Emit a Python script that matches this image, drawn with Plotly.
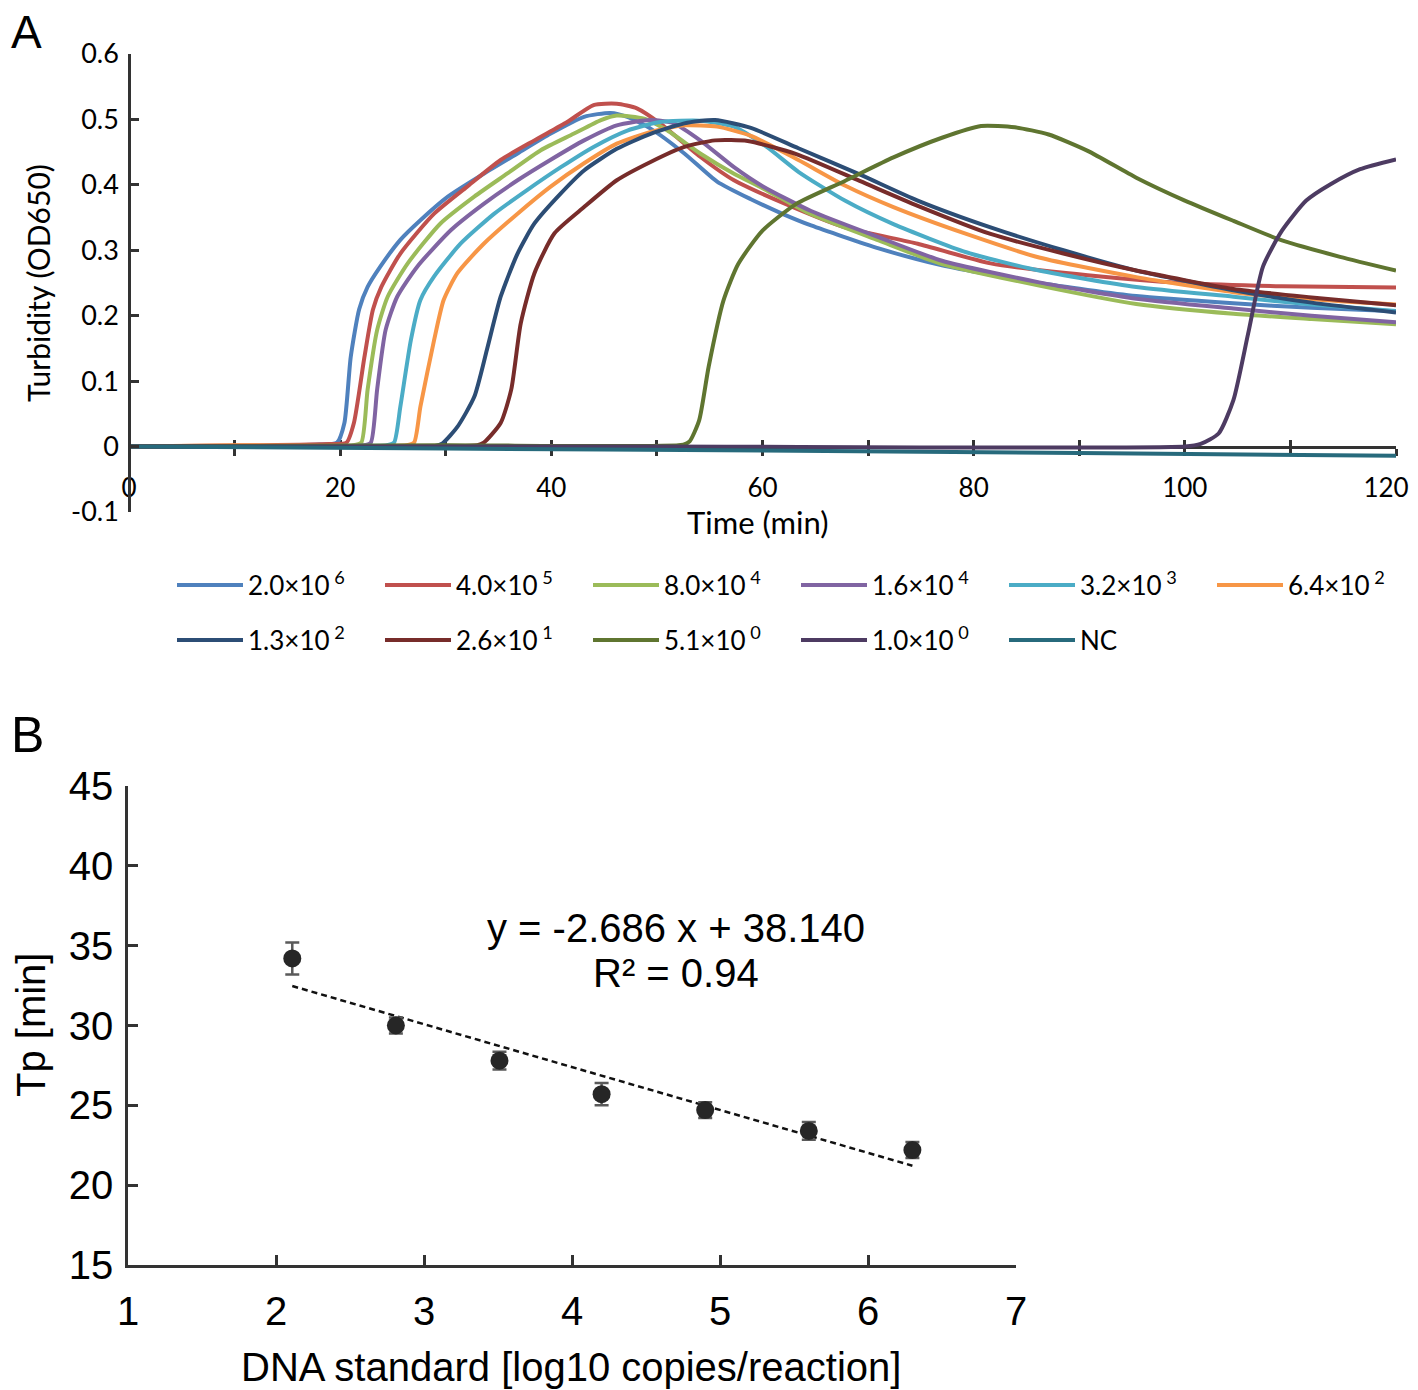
import plotly.graph_objects as go

# ---------------- Panel A data: turbidity curves ----------------
series_names = ["2.0×10<sup>\u00a06</sup>", "4.0×10<sup>\u00a05</sup>", "8.0×10<sup>\u00a04</sup>",
                "1.6×10<sup>\u00a04</sup>", "3.2×10<sup>\u00a03</sup>", "6.4×10<sup>\u00a02</sup>",
                "1.3×10<sup>\u00a02</sup>", "2.6×10<sup>\u00a01</sup>", "5.1×10<sup>\u00a00</sup>",
                "1.0×10<sup>\u00a00</sup>", "NC"]
series_colors = ["#4F81BD", "#C0504D", "#9BBB59", "#8064A2", "#4BACC6", "#F79646",
                 "#2C4D75", "#772C2A", "#5F7530", "#4D3B62", "#276A7C"]

t_s1 = [0, 12, 18, 19.7, 20.4, 21.0, 21.8, 22.6, 23.8, 25.7, 27.6, 30.2, 33.6, 36.8, 39.9, 43.1, 45.6, 47.2,
        49.4, 52.6, 55.7, 58.9, 62.0, 64.6, 71.0, 77.0, 86.2, 95.4, 104.6, 112.0, 120.0]
y_s1 = [0, 0.001, 0.003, 0.006, 0.036, 0.137, 0.21, 0.244, 0.275, 0.316, 0.346, 0.382, 0.417, 0.448, 0.478,
        0.504, 0.51, 0.504, 0.486, 0.448, 0.405, 0.378, 0.355, 0.338, 0.303, 0.277, 0.25, 0.23, 0.219, 0.212, 0.207]

t_s2 = [0, 12, 19, 20.6, 21.3, 22.3, 23.1, 23.9, 25.7, 28.9, 32.0, 35.2, 38.4, 41.5, 44.0, 46.2, 48.1, 50.3,
        54.1, 57.3, 62.0, 67.8, 74.7, 81.6, 90.8, 100, 109.2, 120]
y_s2 = [0, 0.002, 0.004, 0.006, 0.036, 0.137, 0.209, 0.244, 0.295, 0.356, 0.397, 0.438, 0.468, 0.496, 0.522,
        0.524, 0.517, 0.494, 0.443, 0.407, 0.372, 0.335, 0.31, 0.28, 0.262, 0.25, 0.245, 0.243]

t_s3 = [0, 15, 21.2, 22.0, 22.6, 23.5, 24.5, 26.4, 29.5, 32.7, 35.8, 39.0, 42.1, 44.7, 46.2, 48.8, 51.0, 54.1,
        57.3, 60.0, 64.6, 71.0, 77.0, 86.2, 95.4, 104.6, 112, 120]
y_s3 = [0, 0.001, 0.002, 0.006, 0.087, 0.178, 0.229, 0.28, 0.341, 0.382, 0.417, 0.453, 0.478, 0.499, 0.506,
        0.501, 0.483, 0.448, 0.417, 0.395, 0.355, 0.315, 0.279, 0.246, 0.218, 0.203, 0.195, 0.187]

t_s4 = [0, 15, 22.2, 22.9, 23.5, 24.3, 25.4, 27.3, 30.5, 33.6, 36.8, 39.9, 43.1, 46.2, 49.4, 51.6, 54.1, 57.3,
        60.0, 64.6, 71.0, 77.0, 86.2, 95.4, 104.6, 112, 120]
y_s4 = [0, 0.001, 0.002, 0.006, 0.087, 0.178, 0.229, 0.275, 0.331, 0.371, 0.407, 0.438, 0.468, 0.491, 0.499,
        0.494, 0.468, 0.427, 0.398, 0.36, 0.32, 0.284, 0.251, 0.226, 0.211, 0.2, 0.19]

t_s5 = [0, 20, 24.4, 25.1, 25.7, 26.7, 27.6, 28.9, 31.4, 34.6, 37.7, 40.9, 44.0, 47.2, 50.3, 54.1, 57.3, 60.4,
        63.4, 67.8, 72.4, 79.3, 86.2, 95.4, 104.6, 112, 120]
y_s5 = [0, 0.001, 0.002, 0.006, 0.061, 0.163, 0.224, 0.26, 0.31, 0.356, 0.392, 0.427, 0.458, 0.483, 0.496,
        0.498, 0.489, 0.458, 0.42, 0.376, 0.34, 0.297, 0.269, 0.244, 0.229, 0.217, 0.207]

t_s6 = [0, 10, 26.3, 27.0, 27.6, 28.9, 29.8, 31.1, 33.6, 36.8, 39.9, 43.1, 46.2, 49.4, 52.6, 55.7, 58.9, 63.4,
        67.8, 72.4, 79.3, 86.2, 95.4, 104.6, 112, 120]
y_s6 = [0, 0.002, 0.002, 0.006, 0.061, 0.163, 0.224, 0.265, 0.31, 0.356, 0.397, 0.433, 0.463, 0.481, 0.491,
        0.489, 0.475, 0.438, 0.399, 0.366, 0.325, 0.289, 0.259, 0.236, 0.225, 0.217]

t_s7 = [0, 20, 29.0, 29.7, 31.1, 32.7, 33.9, 35.2, 36.8, 38.4, 40.9, 43.1, 46.2, 49.4, 52.6, 55.5, 58.9, 63.4,
        69.2, 74.7, 81.6, 88.5, 95.4, 104.6, 112, 120]
y_s7 = [0, 0.0, 0.001, 0.005, 0.03, 0.076, 0.148, 0.229, 0.295, 0.341, 0.387, 0.422, 0.455, 0.478, 0.494,
        0.499, 0.487, 0.456, 0.416, 0.376, 0.335, 0.3, 0.269, 0.239, 0.22, 0.205]

t_s8 = [0, 25, 33.0, 33.6, 35.2, 36.2, 37.1, 38.4, 40.3, 43.1, 46.2, 49.4, 52.6, 55.5, 58.6, 63.2, 69.2, 74.7,
        81.6, 88.5, 95.4, 104.6, 112, 120]
y_s8 = [0, 0.0, 0.002, 0.006, 0.036, 0.087, 0.188, 0.265, 0.326, 0.366, 0.407, 0.435, 0.458, 0.468, 0.467,
        0.447, 0.406, 0.368, 0.325, 0.295, 0.269, 0.241, 0.228, 0.216]

t_s9 = [0, 30, 52.5, 53.1, 54.0, 54.9, 56.3, 57.7, 60.0, 63.2, 67.8, 72.4, 77.0, 80.7, 83.9, 87.1, 90.8, 95.4,
        100, 104.6, 109.2, 114.7, 120]
y_s9 = [0, 0.002, 0.003, 0.008, 0.04, 0.122, 0.223, 0.279, 0.33, 0.371, 0.406, 0.442, 0.472, 0.49, 0.488,
        0.477, 0.452, 0.411, 0.376, 0.345, 0.315, 0.29, 0.269]

t_s10 = [0, 50, 100, 101.5, 103.2, 104.6, 106.0, 107.4, 109.2, 111.5, 113.8, 116.6, 120]
y_s10 = [0, 0.0, 0.0, 0.004, 0.02, 0.071, 0.173, 0.275, 0.33, 0.376, 0.401, 0.424, 0.439]

t_nc = [0, 30, 60, 90, 120]
y_nc = [0, -0.003, -0.006, -0.010, -0.014]

series_t = [t_s1, t_s2, t_s3, t_s4, t_s5, t_s6, t_s7, t_s8, t_s9, t_s10, t_nc]
series_y = [y_s1, y_s2, y_s3, y_s4, y_s5, y_s6, y_s7, y_s8, y_s9, y_s10, y_nc]

a_xticks = list(range(0, 121, 10))
a_xticklabels = ["0", "", "20", "", "40", "", "60", "", "80", "", "100", "", "120\u00a0\u00a0\u00a0"]
a_yticks = [-0.1, 0, 0.1, 0.2, 0.3, 0.4, 0.5, 0.6]
a_yticklabels = ["-0.1", "0", "0.1", "0.2", "0.3", "0.4", "0.5", "0.6"]

# ---------------- Panel B data: standard curve ----------------
log_copies = [2.11, 2.81, 3.51, 4.20, 4.90, 5.60, 6.30]
tp_min = [34.2, 30.0, 27.8, 25.7, 24.7, 23.4, 22.2]
tp_err = [1.0, 0.5, 0.55, 0.7, 0.5, 0.55, 0.5]
fit_slope = -2.686
fit_intercept = 38.140
fit_r2 = 0.94

# ---------------- Layout geometry ----------------
W, H = 1418, 1390
OFF = 8  # page body margin offset


def px(x):
    return (x - OFF) / W


def py(y):
    return 1 - (y - OFF) / H


AXC = "#333333"

fig = go.Figure()

for i in range(len(series_names)):
    fig.add_trace(go.Scatter(
        x=series_t[i], y=series_y[i], mode="lines", name=series_names[i],
        line=dict(color=series_colors[i], width=4, shape="spline", smoothing=0.6),
        xaxis="x", yaxis="y", legend="legend" if i < 6 else "legend2",
        hoverinfo="skip"))

# invisible trace to materialize the overlay axis (crossing ticks)
fig.add_trace(go.Scatter(x=t_nc, y=y_nc, mode="lines", line=dict(width=0), opacity=0,
                         xaxis="x3", yaxis="y", showlegend=False, hoverinfo="skip"))

# Panel B: fit line
fit_x = [min(log_copies), max(log_copies)]
fit_y = [fit_slope * v + fit_intercept for v in fit_x]
fig.add_trace(go.Scatter(x=fit_x, y=fit_y, mode="lines", xaxis="x2", yaxis="y2",
                         line=dict(color="#111111", width=2.5, dash="6px,4px"),
                         showlegend=False, hoverinfo="skip"))
fig.add_trace(go.Scatter(x=log_copies, y=tp_min, mode="markers", xaxis="x2", yaxis="y2",
                         marker=dict(size=18, color="#262626"),
                         error_y=dict(type="data", array=tp_err, color="#5a5a5a", thickness=2.5, width=7),
                         showlegend=False, hoverinfo="skip"))

a_xdom = [px(129), px(1396)]
a_ydom = [py(512), py(54)]
a_xpos = py(447)
b_xdom = [px(128), px(1016)]
b_ydom = [py(1265), py(786)]

fontA = "Lato, 'Open Sans', sans-serif"
fontB = "'Liberation Sans', Arial, sans-serif"

LEG_IW = 66

fig.update_layout(
    width=W, height=H, margin=dict(l=0, r=0, t=0, b=0, autoexpand=False),
    paper_bgcolor="white", plot_bgcolor="white",
    showlegend=True,
    xaxis=dict(domain=a_xdom, range=[0, 120], anchor="free", position=a_xpos, automargin=False,
               tickmode="array", tickvals=a_xticks, ticktext=a_xticklabels, layer="below traces",
               ticks="outside", ticklen=7, tickwidth=2.5, tickcolor=AXC, ticklabeloverflow="allow",
               showline=True, linecolor=AXC, linewidth=2.5, showgrid=False, zeroline=False,
               tickfont=dict(family=fontA, size=26, color="black"), ticklabelstandoff=10),
    xaxis3=dict(domain=a_xdom, range=[0, 120], anchor="free", position=a_xpos, overlaying="x",
                automargin=False, layer="below traces",
                tickmode="array", tickvals=a_xticks, showticklabels=False,
                ticks="inside", ticklen=7, tickwidth=2.5, tickcolor=AXC,
                showline=False, showgrid=False, zeroline=False),
    yaxis=dict(domain=a_ydom, range=[-0.1, 0.6], anchor="free", position=a_xdom[0], automargin=False,
               tickmode="array", tickvals=a_yticks, ticktext=a_yticklabels,
               ticks="inside", ticklen=8, tickwidth=2.5, tickcolor=AXC,
               showline=True, linecolor=AXC, linewidth=2.5, showgrid=False, zeroline=False,
               tickfont=dict(family=fontA, size=27, color="black"), ticklabelstandoff=4),
    xaxis2=dict(domain=b_xdom, range=[1, 7], anchor="y2", dtick=1, automargin=False,
                ticks="inside", ticklen=10, tickwidth=2.5, tickcolor=AXC,
                showline=True, linecolor=AXC, linewidth=2.5, showgrid=False, zeroline=False,
                tickfont=dict(family=fontB, size=40, color="black"), ticklabelstandoff=9),
    yaxis2=dict(domain=b_ydom, range=[15, 45], anchor="x2", dtick=5, automargin=False,
                ticks="inside", ticklen=10, tickwidth=2.5, tickcolor=AXC,
                showline=True, linecolor=AXC, linewidth=2.5, showgrid=False, zeroline=False,
                tickfont=dict(family=fontB, size=40, color="black"), ticklabelstandoff=4),
    legend=dict(orientation="h", x=px(172), xanchor="left", y=py(585), yanchor="middle",
                entrywidth=163 - (LEG_IW - 30), entrywidthmode="pixels", bgcolor="rgba(0,0,0,0)",
                itemwidth=LEG_IW, font=dict(family=fontA, size=26, color="black"), tracegroupgap=0),
    legend2=dict(orientation="h", x=px(172), xanchor="left", y=py(640), yanchor="middle",
                 entrywidth=163 - (LEG_IW - 30), entrywidthmode="pixels", bgcolor="rgba(0,0,0,0)",
                 itemwidth=LEG_IW, font=dict(family=fontA, size=26, color="black"), tracegroupgap=0),
)

annotations = [
    dict(text="A", x=px(9), y=py(32), xref="paper", yref="paper", xanchor="left", yanchor="middle",
         showarrow=False, font=dict(family=fontB, size=46, color="black")),
    dict(text="B", x=px(9), y=py(735), xref="paper", yref="paper", xanchor="left", yanchor="middle",
         showarrow=False, font=dict(family=fontB, size=50, color="black")),
    dict(text="Turbidity (OD650)", x=px(38), y=py(283), xref="paper", yref="paper", textangle=-90,
         xanchor="center", yanchor="middle", showarrow=False, font=dict(family=fontA, size=30, color="black")),
    dict(text="Time (min)", x=px(758), y=py(522), xref="paper", yref="paper",
         xanchor="center", yanchor="middle", showarrow=False, font=dict(family=fontA, size=31, color="black")),
    dict(text="Tp [min]", x=px(31), y=py(1025), xref="paper", yref="paper", textangle=-90,
         xanchor="center", yanchor="middle", showarrow=False, font=dict(family=fontB, size=40, color="black")),
    dict(text="DNA standard [log10 copies/reaction]", x=px(571), y=py(1367), xref="paper", yref="paper",
         xanchor="center", yanchor="middle", showarrow=False, font=dict(family=fontB, size=40, color="black")),
    dict(text="y = %.3f x + %.3f" % (fit_slope, fit_intercept), x=px(676), y=py(928), xref="paper", yref="paper",
         xanchor="center", yanchor="middle", showarrow=False, font=dict(family=fontB, size=40, color="black")),
    dict(text="R² = %.2f" % fit_r2, x=px(676), y=py(973), xref="paper", yref="paper",
         xanchor="center", yanchor="middle", showarrow=False, font=dict(family=fontB, size=40, color="black")),
]
fig.update_layout(annotations=annotations)

fig.write_html("out.html")
